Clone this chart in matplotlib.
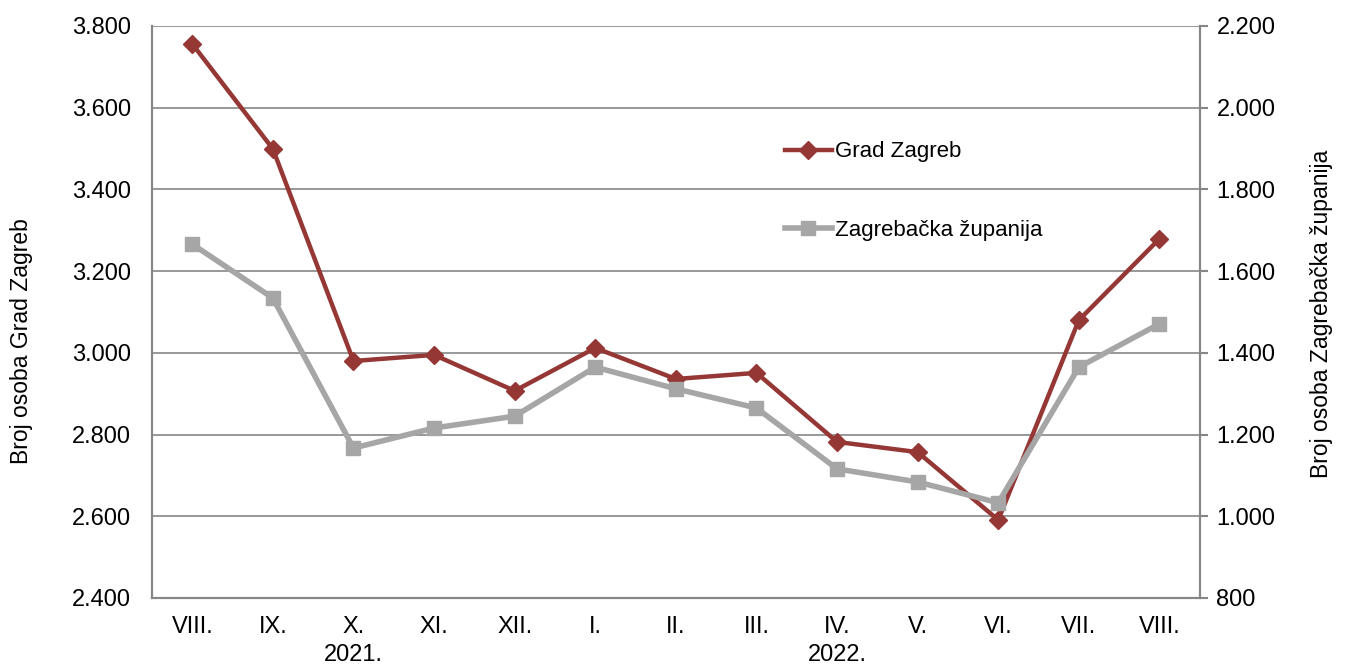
import numpy as np
import matplotlib.pyplot as plt
from matplotlib.ticker import FuncFormatter
from matplotlib.transforms import blended_transform_factory

plt.rcParams['font.family'] = ['Liberation Sans', 'DejaVu Sans']

months = ['VIII.', 'IX.', 'X.', 'XI.', 'XII.', 'I.', 'II.', 'III.', 'IV.', 'V.', 'VI.', 'VII.', 'VIII.']
years = ['2021.', '2022.']
year_pos = [2, 8]
grad_zagreb = [3756, 3499, 2980, 2995, 2907, 3012, 2936, 2951, 2782, 2757, 2591, 3080, 3279]
zag_zupanija = [1666, 1534, 1167, 1216, 1245, 1365, 1312, 1265, 1116, 1084, 1033, 1365, 1471]

red = '#953735'
grey = '#a6a6a6'
spine_c = '#868686'


def fmt(v, pos):
    return '{:,.0f}'.format(v).replace(',', '.')


fig = plt.figure(figsize=(13.45, 6.64), dpi=100)
ax1 = fig.add_axes([0.113, 0.0994, 0.779, 0.8615])
ax2 = ax1.twinx()

x = np.arange(len(months))
l1, = ax1.plot(x, grad_zagreb, color=red, lw=3.2, marker='D', ms=9, label='Grad Zagreb', zorder=3)
l2, = ax2.plot(x, zag_zupanija, color=grey, lw=4, marker='s', ms=9.5, label='Zagrebačka županija', zorder=3)

ax1.set_xlim(-0.5, len(months) - 0.5)
ax1.set_ylim(2400, 3800)
ax2.set_ylim(800, 2200)
ax1.set_yticks(np.arange(2400, 3801, 200))
ax2.set_yticks(np.arange(800, 2201, 200))
ax1.yaxis.set_major_formatter(FuncFormatter(fmt))
ax2.yaxis.set_major_formatter(FuncFormatter(fmt))
ax1.set_xticks(x)
ax1.set_xticklabels(months)

ax1.grid(axis='y', color=spine_c, lw=1.2)
ax1.set_axisbelow(True)
for ax in (ax1, ax2):
    for s in ax.spines.values():
        s.set_color(spine_c)
        s.set_linewidth(1.5)
ax1.spines['top'].set_visible(False)
ax2.spines['top'].set_visible(False)

ax1.tick_params(axis='y', length=0, pad=15, labelsize=17)
ax1.tick_params(axis='x', length=0, pad=13, labelsize=17)
ax2.tick_params(axis='y', length=6, width=1.5, color=spine_c, pad=6, labelsize=17)

ax1.set_ylabel('Broj osoba Grad Zagreb', fontsize=16.5)
ax2.set_ylabel('Broj osoba Zagrebačka županija', fontsize=16.5)
ax1.yaxis.set_label_coords(-0.114, 0.449)
ax2.yaxis.set_label_coords(1.105, 0.497)

tr = blended_transform_factory(ax1.transData, ax1.transAxes)
for yr, p in zip(years, year_pos):
    ax1.text(p, -0.1, yr, transform=tr, ha='center', va='center', fontsize=17)

ax2.legend([l1, l2], ['Grad Zagreb', 'Zagrebačka županija'], loc='upper left',
           bbox_to_anchor=(0.585, 0.833), frameon=False, fontsize=16,
           labelspacing=2.6, handlelength=2.1, handletextpad=0.15)

fig.savefig('out.png', dpi=100)
